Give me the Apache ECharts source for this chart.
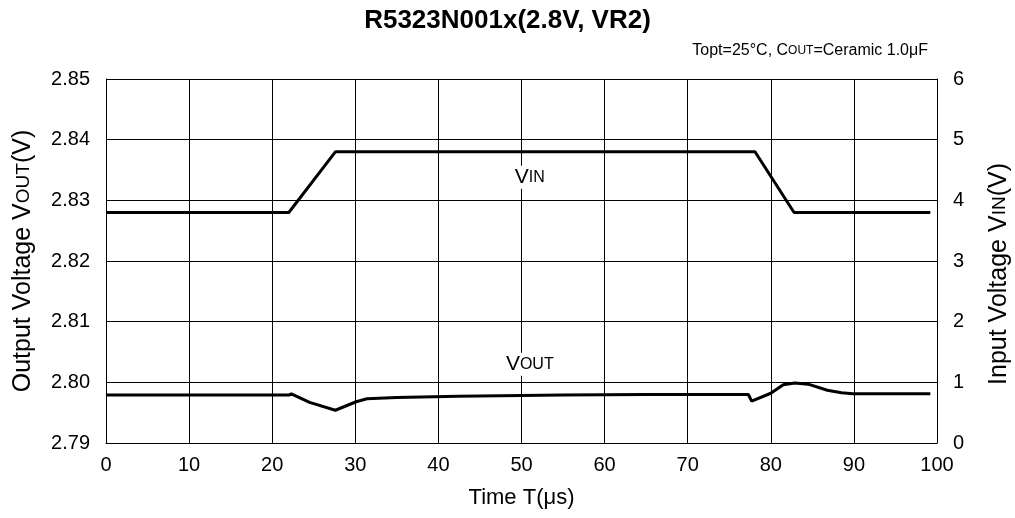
<!DOCTYPE html>
<html>
<head>
<meta charset="utf-8">
<script src="https://cdn.jsdelivr.net/npm/echarts@6/dist/echarts.min.js"></script>
<style>
html,body{margin:0;padding:0;background:#fff;}
#chart{width:1015px;height:518px;}
</style>
</head>
<body>
<div id="chart"></div>
<script>
// ---- data ----
const vinTime = [0, 22.0, 27.6, 78.1, 82.8, 99.2];
const vinVolt = [3.8, 3.8, 4.8, 4.8, 3.8, 3.8];

const voutTime = [0, 22.0, 22.3, 24.5, 27.6, 30.1, 31.4, 35, 42.4, 55, 65, 77.3, 77.7, 80.0, 81.5, 82.9, 84.5, 86.8, 88.5, 89.9, 99.2];
const voutVolt = [2.7979, 2.7979, 2.7981, 2.7967, 2.7954, 2.7968, 2.7973, 2.7975, 2.7977, 2.7979, 2.7980, 2.7980, 2.7969, 2.7982, 2.7996, 2.7999, 2.7997, 2.7987, 2.7983, 2.7981, 2.7981];

const xTicks = [0, 10, 20, 30, 40, 50, 60, 70, 80, 90, 100];
const leftTicks = [2.79, 2.80, 2.81, 2.82, 2.83, 2.84, 2.85];
const rightTicks = [0, 1, 2, 3, 4, 5, 6];

const vinLabelPos = [51.0, 4.38];
const voutLabelPos = [51.0, 2.8030];

// ---- chart ----
const FONT = '"Liberation Sans", Arial, sans-serif';
const chart = echarts.init(document.getElementById('chart'), null, {renderer: 'canvas'});

const pairs = (xs, ys) => xs.map((x, i) => [x, ys[i]]);
const nameRich = {
  a: {fontSize: 25, fontFamily: FONT, color: '#000'},
  b: {fontSize: 19, fontFamily: FONT, color: '#000'}
};
const labelRich = {
  a: {fontSize: 21, fontFamily: FONT, color: '#000'},
  b: {fontSize: 16, fontFamily: FONT, color: '#000'}
};

chart.setOption({
  animation: false,
  backgroundColor: '#fff',
  title: [
    {
      text: 'R5323N001x(2.8V, VR2)',
      left: 'center',
      top: 3,
      textStyle: {fontFamily: FONT, fontSize: 26, fontWeight: 'bold', color: '#000'}
    },
    {
      text: '{a|Topt=25°C, C}{b|OUT}{a|=Ceramic 1.0μF}',
      right: 82,
      top: 38,
      textStyle: {
        fontWeight: 'normal',
        rich: {
          a: {fontSize: 16, fontFamily: FONT, fontWeight: 'normal', color: '#000'},
          b: {fontSize: 12, fontFamily: FONT, fontWeight: 'normal', color: '#000'}
        }
      }
    }
  ],
  grid: {left: 106, right: 78, top: 79, bottom: 75, containLabel: false, outerBoundsMode: 'none'},
  xAxis: {
    type: 'value',
    min: xTicks[0],
    max: xTicks[xTicks.length - 1],
    interval: 10,
    name: 'Time T(μs)',
    nameLocation: 'middle',
    nameGap: 44,
    nameTextStyle: {fontFamily: FONT, fontSize: 22, color: '#000'},
    axisLine: {show: true, lineStyle: {color: '#000', width: 1}},
    axisTick: {show: false},
    axisLabel: {fontFamily: FONT, fontSize: 20, color: '#000', margin: 12},
    splitLine: {show: true, lineStyle: {color: '#000', width: 1}}
  },
  yAxis: [
    {
      type: 'value',
      position: 'left',
      min: leftTicks[0],
      max: leftTicks[leftTicks.length - 1],
      interval: 0.01,
      name: '{a|Output Voltage V}{b|OUT}{a|(V)}',
      nameLocation: 'middle',
      nameGap: 70,
      nameTextStyle: {rich: nameRich},
      axisLine: {show: true, lineStyle: {color: '#000', width: 1}},
      axisTick: {show: false},
      axisLabel: {fontFamily: FONT, fontSize: 20, color: '#000', margin: 16,
        formatter: v => v.toFixed(2)},
      splitLine: {show: true, lineStyle: {color: '#000', width: 1}}
    },
    {
      type: 'value',
      position: 'right',
      min: rightTicks[0],
      max: rightTicks[rightTicks.length - 1],
      interval: 1,
      name: '{a|Input Voltage V}{b|IN}{a|(V)}',
      nameLocation: 'middle',
      nameGap: 50,
      nameRotate: 90,
      nameTextStyle: {rich: nameRich, padding: [0, 26, 0, 0]},
      axisLine: {show: true, lineStyle: {color: '#000', width: 1}},
      axisTick: {show: false},
      axisLabel: {fontFamily: FONT, fontSize: 20, color: '#000', margin: 16},
      splitLine: {show: false}
    }
  ],
  series: [
    {
      name: 'VIN',
      type: 'line',
      yAxisIndex: 1,
      data: pairs(vinTime, vinVolt),
      showSymbol: false,
      symbol: 'none',
      lineStyle: {color: '#000', width: 3},
      z: 3,
      markPoint: {
        symbol: 'circle',
        symbolSize: 0,
        data: [{coord: vinLabelPos}],
        label: {
          show: true,
          position: 'inside',
          formatter: '{a|V}{b|IN}',
          backgroundColor: '#fff',
          padding: [1, 2],
          rich: labelRich
        }
      }
    },
    {
      name: 'VOUT',
      type: 'line',
      yAxisIndex: 0,
      data: pairs(voutTime, voutVolt),
      showSymbol: false,
      symbol: 'none',
      lineStyle: {color: '#000', width: 3},
      z: 3,
      markPoint: {
        symbol: 'circle',
        symbolSize: 0,
        data: [{coord: voutLabelPos}],
        label: {
          show: true,
          position: 'inside',
          formatter: '{a|V}{b|OUT}',
          backgroundColor: '#fff',
          padding: [1, 2],
          rich: labelRich
        }
      }
    }
  ]
});
</script>
</body>
</html>
